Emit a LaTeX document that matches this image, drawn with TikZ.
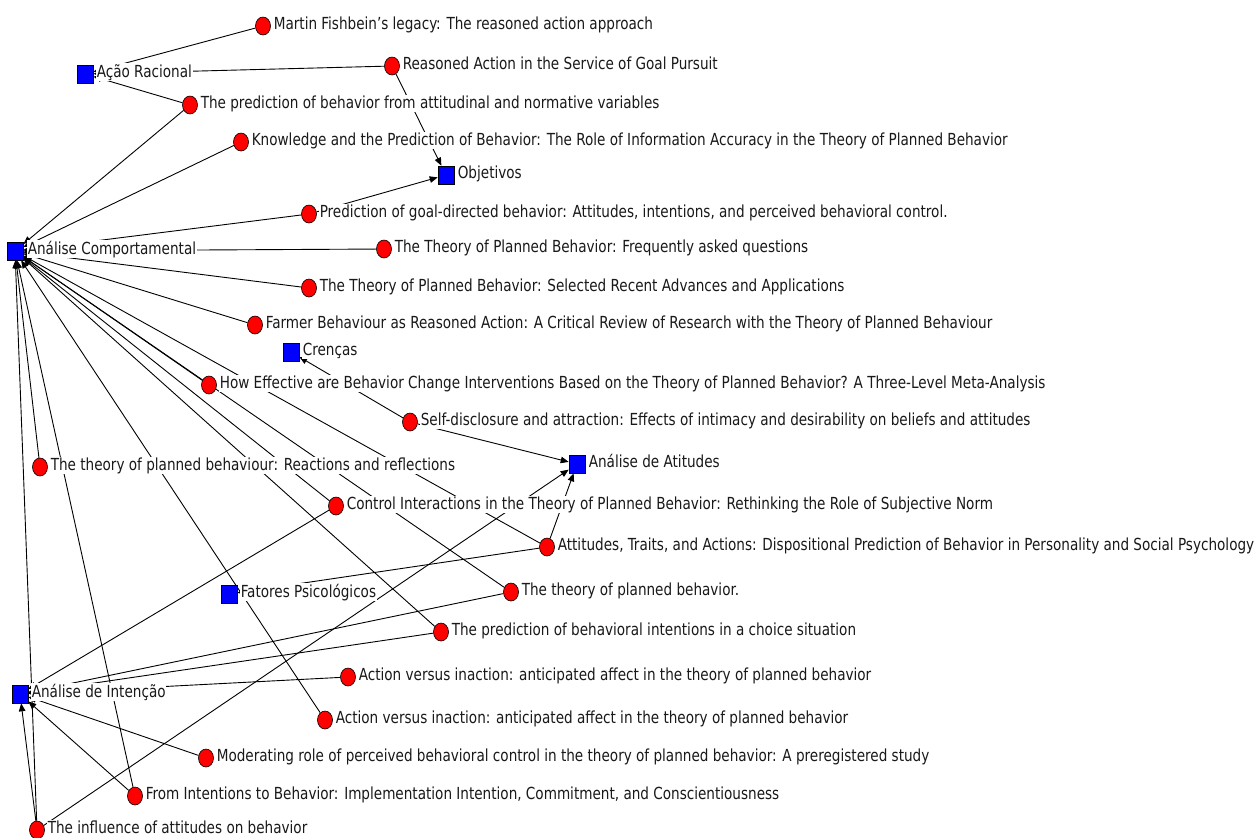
\documentclass[tikz,border=0pt]{standalone}
\usepackage{fontspec}
\setmainfont{DejaVu Sans Condensed}
\usetikzlibrary{arrows.meta,shapes.geometric}
\pgfdeclarelayer{bglayer}
\pgfdeclarelayer{edgelayer}
\pgfdeclarelayer{labellayer}
\pgfsetlayers{bglayer,edgelayer,labellayer,main}
\newcommand{\lt}[1]{\scalebox{1}[1.1]{#1}}
\tikzset{
  paper/.style={ellipse,draw=black,line width=0.6pt,fill=red,minimum width=15pt,minimum height=18pt,inner sep=0pt},
  cat/.style={rectangle,draw=black,line width=0.6pt,fill=blue,minimum width=16pt,minimum height=18pt,inner sep=0pt},
  lab/.style={anchor=base west,fill=white,inner sep=0.6pt,font=\fontsize{15.1}{17}\selectfont,text=black!90},
  edge/.style={draw=black,line width=0.9pt,-{Triangle[length=8pt,width=6.5pt]}}
}
\begin{document}
\begin{tikzpicture}[x=1pt,y=-1pt]
\begin{pgfonlayer}{bglayer}
\fill[white] (0,0) rectangle (1256,838);
\end{pgfonlayer}
\useasboundingbox (0,0) rectangle (1256,838);
% category nodes
\node[cat] (AR) at (85,74) {};
\node[cat] (OB) at (446,175) {};
\node[cat] (AC) at (15,251) {};
\node[cat] (CR) at (291,352) {};
\node[cat] (AA) at (577,464) {};
\node[cat] (FP) at (229,594) {};
\node[cat] (AI) at (20,694) {};
% paper nodes
\node[paper] (p1) at (263,26) {};
\node[paper] (p2) at (392,66) {};
\node[paper] (p3) at (190,105) {};
\node[paper] (p4) at (241,142) {};
\node[paper] (p5) at (309,214) {};
\node[paper] (p6) at (384,249) {};
\node[paper] (p7) at (309,288) {};
\node[paper] (p8) at (255,325) {};
\node[paper] (p9) at (209,385) {};
\node[paper] (p10) at (410,422) {};
\node[paper] (p11) at (40,467) {};
\node[paper] (p12) at (336,506) {};
\node[paper] (p13) at (547,547) {};
\node[paper] (p14) at (511,592) {};
\node[paper] (p15) at (441,632) {};
\node[paper] (p16) at (348,677) {};
\node[paper] (p17) at (325,720) {};
\node[paper] (p18) at (206,758) {};
\node[paper] (p19) at (135,796) {};
\node[paper] (p20) at (37,830) {};
% labels
\begin{pgfonlayer}{labellayer}
\node[lab] (lAR) at (96,77) {\lt{Ação Racional}};
\node[lab] (lOB) at (457,178) {\lt{Objetivos}};
\node[lab] (lAC) at (27,254) {\lt{Análise Comportamental}};
\node[lab] (lCR) at (302,355) {\lt{Crenças}};
\node[lab] (lAA) at (588,467) {\lt{Análise de Atitudes}};
\node[lab] (lFP) at (240,597) {\lt{Fatores Psicológicos}};
\node[lab] (lAI) at (31,697) {\lt{Análise de Intenção}};
\node[lab] (l1) at (273,29) {\lt{Martin Fishbein's legacy: The reasoned action approach}};
\node[lab] (l2) at (402,69) {\lt{Reasoned Action in the Service of Goal Pursuit}};
\node[lab] (l3) at (200,108) {\lt{The prediction of behavior from attitudinal and normative variables}};
\node[lab] (l4) at (251,145) {\lt{Knowledge and the Prediction of Behavior: The Role of Information Accuracy in the Theory of Planned Behavior}};
\node[lab] (l5) at (319,217) {\lt{Prediction of goal-directed behavior: Attitudes, intentions, and perceived behavioral control.}};
\node[lab] (l6) at (394,252) {\lt{The Theory of Planned Behavior: Frequently asked questions}};
\node[lab] (l7) at (319,291) {\lt{The Theory of Planned Behavior: Selected Recent Advances and Applications}};
\node[lab] (l8) at (265,328) {\lt{Farmer Behaviour as Reasoned Action: A Critical Review of Research with the Theory of Planned Behaviour}};
\node[lab] (l9) at (219,388) {\lt{How Effective are Behavior Change Interventions Based on the Theory of Planned Behavior? A Three-Level Meta-Analysis}};
\node[lab] (l10) at (420,425) {\lt{Self-disclosure and attraction: Effects of intimacy and desirability on beliefs and attitudes}};
\node[lab] (l11) at (50,470) {\lt{The theory of planned behaviour: Reactions and reflections}};
\node[lab] (l12) at (346,509) {\lt{Control Interactions in the Theory of Planned Behavior: Rethinking the Role of Subjective Norm}};
\node[lab] (l13) at (557,550) {\lt{Attitudes, Traits, and Actions: Dispositional Prediction of Behavior in Personality and Social Psychology}};
\node[lab] (l14) at (521,595) {\lt{The theory of planned behavior.}};
\node[lab] (l15) at (451,635) {\lt{The prediction of behavioral intentions in a choice situation}};
\node[lab] (l16) at (358,680) {\lt{Action versus inaction: anticipated affect in the theory of planned behavior}};
\node[lab] (l17) at (335,723) {\lt{Action versus inaction: anticipated affect in the theory of planned behavior}};
\node[lab] (l18) at (216,761) {\lt{Moderating role of perceived behavioral control in the theory of planned behavior: A preregistered study}};
\node[lab] (l19) at (145,799) {\lt{From Intentions to Behavior: Implementation Intention, Commitment, and Conscientiousness}};
\node[lab] (l20) at (47,833) {\lt{The influence of attitudes on behavior}};
\end{pgfonlayer}
% edges
\begin{pgfonlayer}{edgelayer}
\draw[edge] (p1) -- (AR);
\draw[edge] (p2) -- (AR);
\draw[edge] (p3) -- (AR);
\draw[edge] (p2) -- (OB);
\draw[edge] (p5) -- (OB);
\draw[edge] (p3) -- (AC);
\draw[edge] (p4) -- (AC);
\draw[edge] (p5) -- (AC);
\draw[edge] (p6) -- (AC);
\draw[edge] (p7) -- (AC);
\draw[edge] (p8) -- (AC);
\draw[edge] (p9) -- (AC);
\draw[edge] (p11) -- (AC);
\draw[edge] (p12) -- (AC);
\draw[edge] (p13) -- (AC);
\draw[edge] (p14) -- (AC);
\draw[edge] (p15) -- (AC);
\draw[edge] (p17) -- (AC);
\draw[edge] (p19) -- (AC);
\draw[edge] (p20) -- (AC);
\draw[edge] (p10) -- (CR);
\draw[edge] (p10) -- (AA);
\draw[edge] (p13) -- (AA);
\draw[edge] (p20) -- (AA);
\draw[edge] (p13) -- (FP);
\draw[edge] (p12) -- (AI);
\draw[edge] (p14) -- (AI);
\draw[edge] (p15) -- (AI);
\draw[edge] (p16) -- (AI);
\draw[edge] (p18) -- (AI);
\draw[edge] (p19) -- (AI);
\draw[edge] (p20) -- (AI);
\end{pgfonlayer}
\end{tikzpicture}
\end{document}
